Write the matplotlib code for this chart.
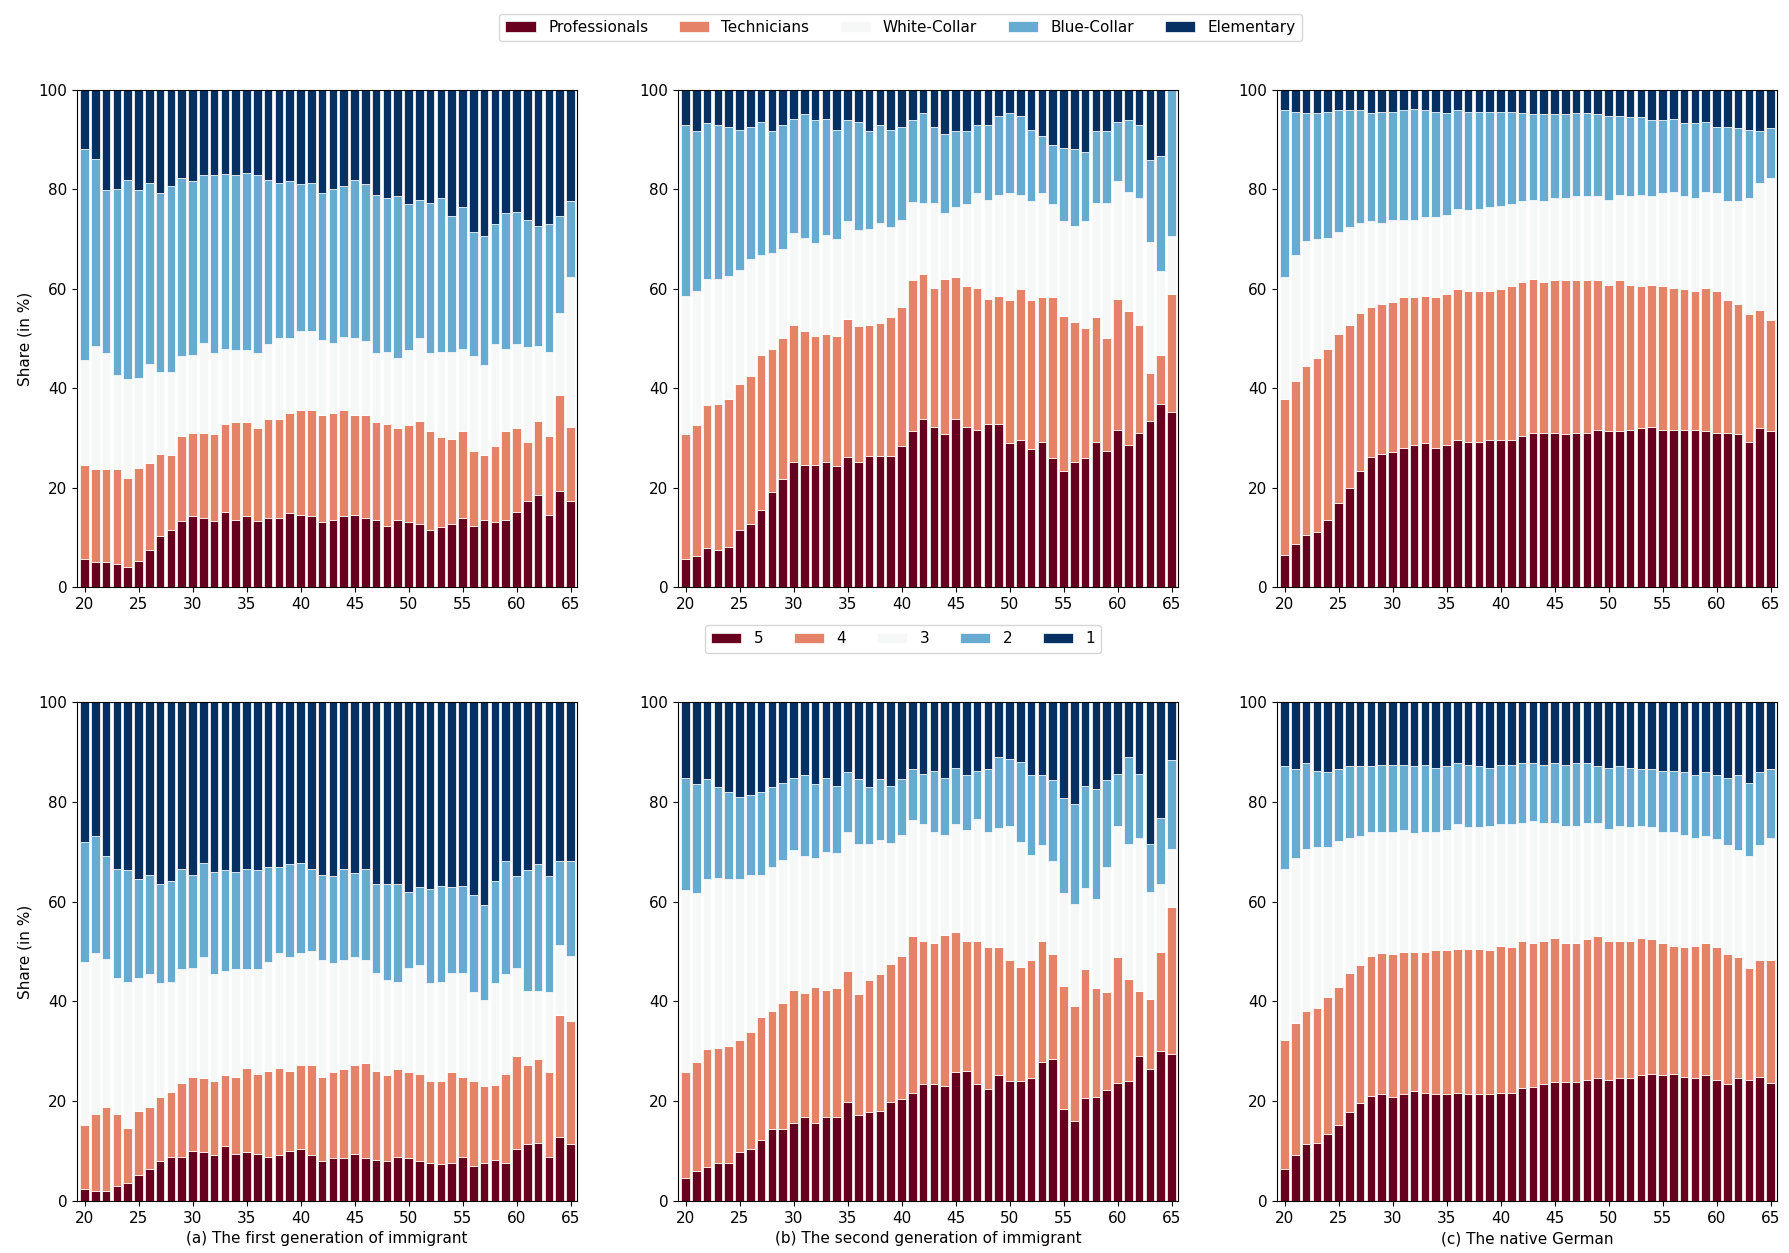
import numpy as np
import matplotlib
matplotlib.use("Agg")
import matplotlib.pyplot as plt

ages = list(range(20, 66))
occupations = ["Professionals", "Technicians", "White-Collar", "Blue-Collar", "Elementary"]
skill_levels = ["5", "4", "3", "2", "1"]
panel_titles = ["(a) The first generation of immigrant",
                "(b) The second generation of immigrant",
                "(c) The native German"]
xticks = [20, 25, 30, 35, 40, 45, 50, 55, 60, 65]
yticks = [0, 20, 40, 60, 80, 100]

# Cumulative share (in %) at the top of each stacked segment, per age 20..65
# ---- top row: occupation groups ----
occ_g1_prof = [5.6,5.0,5.0,4.7,4.1,5.3,7.5,10.3,11.5,13.3, 14.2,13.9,13.3,15.1,13.5,14.2,13.3,13.9,13.9,14.8,
               14.5,14.2,13.0,13.5,14.2,14.5,13.9,13.5,12.3,13.5, 13.0,12.7,11.5,12.1,12.7,13.9,12.3,13.5,13.0,13.5,
               15.1,17.3,18.5,14.5,19.4,17.3]
occ_g1_tech = [24.6,23.7,23.7,23.7,21.9,24.0,24.9,26.7,26.5,30.4, 31.0,31.0,30.8,32.8,33.2,33.2,32.0,33.8,33.8,35.1,
               35.6,35.6,34.7,35.1,35.6,34.7,34.7,33.2,32.8,32.0, 32.6,33.5,31.4,30.2,29.8,31.4,27.4,26.5,28.4,31.4,
               32.0,29.2,33.5,30.4,38.7,32.2]
occ_g1_white = [45.7,48.5,47.1,42.7,41.8,42.1,44.8,43.3,43.3,46.4, 46.6,49.1,47.0,47.9,47.6,47.6,47.0,48.8,50.1,50.1,
                51.6,51.6,49.7,49.1,50.3,50.1,49.4,47.0,47.3,46.0, 47.6,50.1,47.0,47.3,47.3,47.9,46.4,44.6,48.8,47.9,
                48.8,48.2,48.5,47.3,55.2,62.4]
occ_g1_blue = [88.1,86.2,79.8,80.0,81.9,79.8,81.2,79.2,80.7,82.2, 81.6,82.8,82.8,83.1,82.8,83.4,82.8,81.9,81.2,81.6,
               81.0,81.2,79.2,80.0,80.7,81.9,81.0,78.8,78.2,78.6, 77.0,77.9,77.3,78.2,74.6,76.4,71.5,70.6,73.1,75.2,
               75.5,73.9,72.7,73.1,74.6,77.6]

occ_g2_prof = [5.6,6.2,7.8,7.4,8.0,11.5,12.7,15.4,19.1,21.8, 25.2,24.6,24.6,25.2,24.3,26.1,25.2,26.4,26.4,26.4,
               28.3,31.4,33.8,32.2,30.8,33.8,32.2,31.6,32.8,32.8, 28.9,29.6,27.7,29.2,25.9,23.4,25.2,25.9,29.2,27.4,
               31.6,28.6,31.0,33.5,36.9,35.3]
occ_g2_tech = [30.8,32.6,36.6,36.9,37.8,40.8,42.4,46.6,47.9,50.1, 52.7,51.5,50.6,50.9,50.6,54.0,52.5,52.7,53.1,54.3,
               56.4,61.7,62.9,60.1,62.0,62.3,60.5,60.1,58.0,58.6, 57.7,59.9,57.7,58.3,58.3,54.6,53.4,52.1,54.3,50.1,
               58.0,55.6,52.8,43.0,46.6,58.9]
occ_g2_white = [58.6,59.6,62.0,62.0,62.6,63.8,66.0,66.9,67.2,68.1, 71.2,70.2,69.3,70.8,70.0,73.6,71.8,72.1,73.3,72.4,
                73.9,77.5,77.3,77.3,75.2,76.4,77.0,79.2,77.9,78.8, 79.2,78.8,77.6,79.2,77.0,73.7,72.7,73.7,77.3,77.3,
                81.6,79.4,78.2,69.5,63.5,70.6]
occ_g2_blue = [93.0,91.7,93.3,93.0,92.6,92.0,92.6,93.6,91.7,93.0, 94.2,95.1,93.9,94.2,92.0,93.9,93.6,91.7,93.0,92.0,
               92.6,93.9,95.4,92.6,91.1,91.7,91.7,93.0,93.0,94.8, 95.4,94.8,92.0,90.8,88.9,88.3,88.1,87.5,91.7,91.7,
               93.6,93.9,93.0,85.9,86.8,100.0]

occ_nat_prof = [6.5,8.7,10.5,11.1,13.5,17.0,20.0,23.4,26.1,26.7, 27.1,28.0,28.6,29.0,28.0,28.6,29.6,29.2,29.2,29.6,
                29.6,29.6,30.4,31.0,31.0,31.0,30.8,31.0,31.0,31.6, 31.4,31.4,31.6,32.0,32.2,31.6,31.6,31.6,31.6,31.4,
                31.0,31.0,30.8,29.2,32.0,31.4]
occ_nat_tech = [37.8,41.4,44.5,46.0,47.9,50.9,52.7,55.2,56.4,57.0, 57.4,58.3,58.3,58.6,58.3,58.9,59.9,59.5,59.5,59.5,
                59.9,60.5,61.3,62.0,61.4,61.7,61.7,61.7,61.7,61.7, 60.7,61.7,60.7,60.5,60.7,60.5,60.1,59.9,59.5,60.1,
                59.5,57.7,57.0,54.9,55.8,53.7]
occ_nat_white = [62.3,66.9,69.6,70.0,70.2,71.5,72.4,73.3,73.7,73.3, 73.9,73.9,73.9,74.5,74.5,74.9,76.1,75.8,76.1,76.4,
                 76.7,77.0,77.6,77.9,77.6,78.2,78.2,78.6,78.6,78.6, 77.9,78.8,78.6,78.8,78.6,79.2,79.4,78.6,78.2,79.4,
                 79.2,77.6,77.6,78.2,81.2,82.2]
occ_nat_blue = [96.0,95.6,95.4,95.4,95.6,96.0,96.0,96.0,95.4,95.6, 95.6,96.0,96.2,96.0,95.6,95.4,96.0,95.6,95.6,95.6,
                95.6,95.6,95.4,95.1,95.1,95.1,95.1,95.4,95.4,95.1, 94.8,94.8,94.5,94.5,93.9,93.9,94.2,93.3,93.3,93.6,
                92.6,92.6,92.3,92.0,91.7,92.3]

# ---- bottom row: skill levels 5..2 (1 fills up to 100) ----
sk_g1_5 = [2.5,2.1,2.1,3.1,3.7,5.2,6.5,8.0,8.9,8.9, 10.1,9.8,9.2,11.0,9.5,9.8,9.5,8.9,9.2,10.1,
           10.4,9.2,8.0,8.6,8.6,9.5,8.6,8.3,8.0,8.9, 8.6,8.0,7.7,7.4,7.7,8.9,7.1,7.7,8.3,7.7,
           10.4,11.4,11.7,8.9,12.9,11.4]
sk_g1_4 = [15.2,17.5,18.8,17.5,14.7,18.1,18.8,20.9,21.8,23.7, 24.9,24.6,24.0,25.2,24.9,26.7,25.5,26.1,26.7,26.1,
           27.3,27.3,24.9,25.8,26.4,27.3,27.7,26.1,25.2,26.4, 25.8,25.5,24.0,24.0,25.8,24.9,24.0,23.1,23.3,25.5,
           29.1,27.3,28.5,25.8,37.2,36.0]
sk_g1_3 = [47.9,49.7,48.5,44.6,43.9,44.6,45.5,43.6,43.9,46.4, 46.7,48.9,45.5,46.1,46.4,46.4,46.4,47.9,49.7,48.9,
           49.7,50.1,48.3,47.6,48.3,48.9,48.3,45.7,44.3,43.9, 46.7,47.3,43.6,43.9,45.7,45.7,41.8,40.2,43.6,45.5,
           46.7,42.1,42.1,41.8,51.3,49.1]
sk_g1_2 = [71.9,73.1,69.1,66.6,66.3,64.5,65.4,63.6,64.2,66.6, 65.4,67.8,66.0,66.3,66.0,66.6,66.3,67.0,67.0,67.6,
           67.8,66.6,65.4,65.1,66.6,65.7,66.6,63.6,63.6,63.6, 62.0,63.0,62.6,63.2,63.0,63.2,61.4,59.3,64.2,68.1,
           65.1,66.3,67.6,65.1,68.1,68.1]

sk_g2_5 = [4.7,6.1,6.8,7.7,7.7,9.8,10.4,12.2,14.4,14.4, 15.6,16.8,15.6,16.8,16.8,19.9,17.2,17.8,18.0,19.9,
           20.5,21.7,23.5,23.5,23.1,25.8,26.1,23.4,22.5,25.2, 24.0,24.0,24.6,27.9,28.5,18.5,16.0,20.6,20.9,22.2,
           23.7,24.0,29.1,26.4,30.1,29.5]
sk_g2_4 = [25.8,27.9,30.4,30.7,31.0,32.2,33.8,36.8,38.0,39.6, 42.3,41.7,42.9,42.3,42.6,46.0,41.4,44.2,45.4,47.5,
           49.1,53.1,52.1,51.8,53.4,54.0,52.1,52.1,50.9,50.9, 48.2,46.9,48.2,52.1,49.4,43.0,39.0,46.4,42.6,41.8,
           48.8,44.5,42.0,40.5,50.0,59.0]
sk_g2_3 = [62.3,61.8,64.5,64.8,64.5,64.5,65.4,65.4,67.0,68.4, 70.3,69.1,68.8,70.0,69.7,73.9,71.5,71.5,72.4,71.8,
           73.3,76.3,75.5,73.9,73.3,75.5,74.3,76.5,74.0,74.7, 75.2,71.9,69.4,71.3,68.2,61.8,59.6,62.7,60.5,67.0,
           75.2,71.5,72.8,62.0,63.6,70.6]
sk_g2_2 = [84.7,83.5,84.5,82.9,82.0,81.0,81.4,82.0,82.9,83.8, 84.7,85.3,83.5,84.7,83.2,85.9,84.5,82.9,84.5,83.2,
           84.5,86.5,85.6,86.2,84.7,86.8,85.3,86.2,86.5,89.0, 88.6,88.0,85.3,85.3,84.4,80.7,79.5,83.2,82.6,84.4,
           85.6,89.0,85.6,71.5,76.7,88.4]

sk_nat_5 = [6.5,9.2,11.4,11.6,13.4,15.3,17.8,19.6,21.1,21.4, 20.8,21.4,22.0,21.7,21.4,21.4,21.7,21.4,21.4,21.4,
            21.7,21.7,22.7,22.9,23.5,23.9,23.9,23.9,24.3,24.6, 24.3,24.6,24.6,25.2,25.5,25.2,25.5,24.9,24.6,25.2,
            24.3,23.4,24.6,24.3,24.9,23.7]
sk_nat_4 = [32.2,35.6,38.0,38.6,40.8,42.9,45.7,47.3,49.1,49.7, 49.4,50.0,50.0,50.0,50.3,50.3,50.6,50.6,50.6,50.3,
            51.2,50.9,52.1,51.8,52.1,52.7,51.8,51.8,52.5,53.1, 52.1,52.1,52.1,52.7,52.5,51.8,51.2,50.9,51.2,51.8,
            50.9,49.4,48.8,46.7,48.2,48.2]
sk_nat_3 = [66.6,68.8,70.6,70.9,70.9,72.1,72.7,73.1,73.9,73.9, 73.9,74.3,73.7,73.9,73.9,74.3,75.5,74.9,74.9,75.2,
            75.5,75.5,75.8,76.1,75.8,75.8,75.2,75.2,75.8,75.8, 74.6,75.2,74.9,75.2,74.9,73.9,73.9,73.3,72.7,73.1,
            72.5,71.3,70.3,69.1,71.3,72.8]
sk_nat_2 = [87.2,86.5,87.8,86.2,85.9,86.5,87.2,87.2,87.2,87.4, 87.4,87.4,87.2,87.4,86.8,87.2,87.8,87.4,87.2,86.8,
            87.4,87.4,87.8,87.8,87.4,87.8,87.4,87.8,87.8,87.2, 86.8,87.2,86.8,86.5,86.5,86.2,86.2,85.9,85.3,85.9,
            85.3,84.7,85.3,83.8,85.9,86.5]

top_row = [
    [occ_g1_prof, occ_g1_tech, occ_g1_white, occ_g1_blue],
    [occ_g2_prof, occ_g2_tech, occ_g2_white, occ_g2_blue],
    [occ_nat_prof, occ_nat_tech, occ_nat_white, occ_nat_blue],
]
bottom_row = [
    [sk_g1_5, sk_g1_4, sk_g1_3, sk_g1_2],
    [sk_g2_5, sk_g2_4, sk_g2_3, sk_g2_2],
    [sk_nat_5, sk_nat_4, sk_nat_3, sk_nat_2],
]

colors = [plt.cm.RdBu(v) for v in np.linspace(0, 1, 5)]

plt.rcParams['font.family'] = ['DejaVu Sans']
plt.rcParams['font.size'] = 11

fig = plt.figure(figsize=(17.9, 12.53), dpi=100)

lefts = [77 / 1790, 678 / 1790, 1277 / 1790]
width = 500 / 1790
row_bottoms = [1 - 587 / 1253, 1 - 1201 / 1253]
row_heights = [497 / 1253, 499 / 1253]


def draw(ax, cum_lists, labels):
    cum = np.vstack([np.zeros(len(ages))] + [np.array(c, float) for c in cum_lists] + [np.full(len(ages), 100.0)])
    segs = np.diff(cum, axis=0)
    handles = []
    for i in range(5):
        h = ax.bar(ages, segs[i], bottom=cum[i], width=0.8, color=colors[i],
                   edgecolor='white', linewidth=0.5, label=labels[i])
        handles.append(h)
    ax.set_xlim(19.3, 65.6)
    ax.set_ylim(0, 100)
    ax.set_xticks(xticks)
    ax.set_yticks(yticks)
    return handles


for r, (rowdata, labels) in enumerate([(top_row, occupations), (bottom_row, skill_levels)]):
    for c in range(3):
        ax = fig.add_axes([lefts[c], row_bottoms[r], width, row_heights[r]])
        hs = draw(ax, rowdata[c], labels)
        if c == 0:
            ax.set_ylabel("Share (in %)")
        if r == 1:
            ax.set_xlabel(panel_titles[c])
        if c == 0:
            if r == 0:
                fig.legend(hs, occupations, loc='upper center', ncol=5,
                           bbox_to_anchor=(0.503, 0.995))
            else:
                fig.legend(hs, skill_levels, loc='upper center', ncol=5,
                           bbox_to_anchor=(0.5045, 0.507))

fig.savefig("out.png", dpi=100)
